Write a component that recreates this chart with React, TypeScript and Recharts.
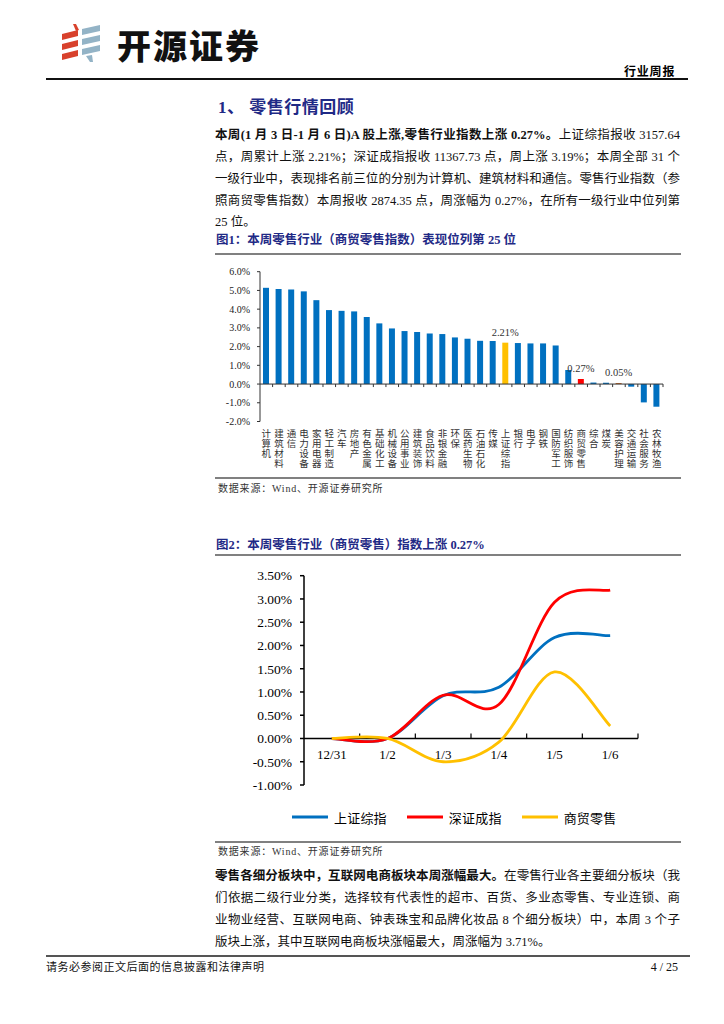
import React from "react";
import {
  BarChart,
  Bar,
  Cell,
  LabelList,
  LineChart,
  Line,
  XAxis,
  YAxis,
  ReferenceLine,
  Legend,
} from "recharts";

// 图1 data: weekly change of the 31 first-level industries + 上证综指
const industries = [
  "计算机", "建筑材料", "通信", "电力设备", "家用电器", "轻工制造", "汽车", "房地产",
  "有色金属", "基础化工", "机械设备", "公用事业", "建筑装饰", "食品饮料", "非银金融", "环保",
  "医药生物", "石油石化", "传媒", "上证综指", "银行", "电子", "钢铁", "国防军工",
  "纺织服饰", "商贸零售", "综合", "煤炭", "美容护理", "交通运输", "社会服务", "农林牧渔",
];
const weeklyChange = [
  5.14, 5.07, 5.05, 4.95, 4.48, 3.95, 3.91, 3.88,
  3.58, 3.24, 2.97, 2.83, 2.78, 2.70, 2.67, 2.49,
  2.42, 2.31, 2.30, 2.21, 2.19, 2.17, 2.17, 2.06,
  0.75, 0.27, 0.08, 0.07, 0.05, -0.14, -0.98, -1.21,
];
const barTicks = [-2, -1, 0, 1, 2, 3, 4, 5, 6];
const highlight: Record<string, string> = {
  上证综指: "#FFC000",
  商贸零售: "#FF0000",
  美容护理: "#C55A11",
};
const labeled = ["上证综指", "商贸零售", "美容护理"];

// 图2 data: cumulative change since 12/31
const dates = ["12/31", "1/2", "1/3", "1/4", "1/5", "1/6"];
const seriesNames = ["上证综指", "深证成指", "商贸零售"];
const sseComposite = [0, 0, 0.92, 1.1, 2.17, 2.21];
const szseComponent = [0, 0, 0.93, 0.73, 2.93, 3.19];
const retailIndex = [0, 0, -0.5, -0.08, 1.43, 0.27];
const lineTicks = [-1, -0.5, 0, 0.5, 1, 1.5, 2, 2.5, 3, 3.5];

const barData = industries.map((name, i) => ({ name, value: weeklyChange[i] }));
const lineData = dates.map((d, i) => ({
  date: d,
  上证综指: sseComposite[i],
  深证成指: szseComponent[i],
  商贸零售: retailIndex[i],
}));

const SERIF = "'Liberation Serif', 'Times New Roman', 'Noto Sans CJK SC', serif";
const NAVY = "#1F2A86";

// Excel-like smoothing (Catmull-Rom through every point)
function excelSmooth(context: any) {
  let pts: number[][] = [];
  return {
    areaStart() {},
    areaEnd() {},
    lineStart() {
      pts = [];
    },
    point(x: number, y: number) {
      pts.push([+x, +y]);
    },
    lineEnd() {
      const n = pts.length;
      if (!n) return;
      context.moveTo(pts[0][0], pts[0][1]);
      for (let i = 0; i < n - 1; i++) {
        const p0 = pts[i - 1] || pts[i];
        const p1 = pts[i];
        const p2 = pts[i + 1];
        const p3 = pts[i + 2] || p2;
        context.bezierCurveTo(
          p1[0] + (p2[0] - p0[0]) / 6,
          p1[1] + (p2[1] - p0[1]) / 6,
          p2[0] - (p3[0] - p1[0]) / 6,
          p2[1] - (p3[1] - p1[1]) / 6,
          p2[0],
          p2[1]
        );
      }
    },
  };
}

const VerticalTick = (props: any) => {
  const { x, y, payload } = props;
  const chars = Array.from(String(payload.value));
  return (
    <g>
      {chars.map((ch, i) => (
        <text
          key={i}
          x={x}
          y={y + 15 + i * 10.3}
          textAnchor="middle"
          fontSize={9.5}
          fontFamily={SERIF}
          fill="#333"
        >
          {ch}
        </text>
      ))}
    </g>
  );
};

// zero line of 图1 with small tick marks between categories
const BarZeroLine = (props: any) => {
  const { x1, x2, y1 } = props;
  const n = industries.length;
  const step = (x2 - x1) / n;
  return (
    <g>
      <line x1={x1} x2={x2} y1={y1} y2={y1} stroke="#333" strokeWidth={1} />
      {industries.map((_, i) => (
        <line key={i} x1={x1 + (i + 1) * step} x2={x1 + (i + 1) * step} y1={y1} y2={y1 + 3} stroke="#333" strokeWidth={1} />
      ))}
    </g>
  );
};

// zero line of 图2 with tick marks and date labels
const LineZeroAxis = (props: any) => {
  const { x1, x2, y1 } = props;
  const n = dates.length;
  const step = (x2 - x1) / n;
  return (
    <g>
      <line x1={x1} x2={x2} y1={y1} y2={y1} stroke="#000" strokeWidth={1.5} />
      {dates.map((d, i) => (
        <g key={d}>
          <line x1={x1 + (i + 1) * step} x2={x1 + (i + 1) * step} y1={y1} y2={y1 - 5} stroke="#000" strokeWidth={1.2} />
          <text x={x1 + (i + 0.5) * step} y={y1 + 21} textAnchor="middle" fontSize={13} fontFamily={SERIF} fill="#000">
            {d}
          </text>
        </g>
      ))}
    </g>
  );
};

const LegendRow = (props: any) => {
  const items = [...(props.payload || [])].sort(
    (a: any, b: any) => seriesNames.indexOf(a.value) - seriesNames.indexOf(b.value)
  );
  return (
    <div style={{ display: "flex", alignItems: "center", height: 18 }}>
      {items.map((it: any) => (
        <div key={it.value} style={{ display: "flex", alignItems: "center", marginRight: 20 }}>
          <svg width={36} height={6}>
            <line x1={0} x2={36} y1={3} y2={3} stroke={it.color} strokeWidth={3} />
          </svg>
          <span style={{ marginLeft: 6, fontSize: 13, fontFamily: SERIF, color: "#000", letterSpacing: 0.2 }}>
            {it.value}
          </span>
        </div>
      ))}
    </div>
  );
};

const Abs = ({ left, top, style, children }: any) => (
  <div style={{ position: "absolute", left, top, whiteSpace: "nowrap", ...style }}>{children}</div>
);

const JLine = ({ top, last, children }: any) => (
  <div
    style={{
      position: "absolute",
      left: 215,
      top: top - 11,
      width: 465,
      height: 22,
      lineHeight: "22px",
      fontSize: 12.5,
      whiteSpace: "nowrap",
      textAlign: last ? "left" : "justify",
      textAlignLast: last ? "left" : "justify",
      color: "#111",
    } as any}
  >
    {children}
  </div>
);

const Rule = ({ top, left = 215, width = 466, h = 1.5, color = "#808080" }: any) => (
  <div style={{ position: "absolute", left, top, width, height: h, background: color }} />
);

export default function App() {
  return (
    <div
      style={{
        position: "absolute",
        left: 0,
        top: 0,
        width: 724,
        height: 1024,
        background: "#fff",
        fontFamily: SERIF,
        overflow: "hidden",
      }}
    >
      {/* header */}
      <svg style={{ position: "absolute", left: 0, top: 0 }} width={120} height={75}>
        <polygon points="73,24 76,24 79,30 76,31" fill="#D8412C" />
        <polygon points="62,34 78,30 78,36 62,40" fill="#D8412C" />
        <polygon points="62,44 78,40 78,46 62,50" fill="#D8412C" />
        <polygon points="62,54 78,50 78,56 62,60" fill="#D8412C" />
        <polygon points="82,29 100,25 100,31 82,35" fill="#93B3C6" />
        <polygon points="82,39 100,35 100,41 82,45" fill="#93B3C6" />
        <polygon points="82,49 100,45 100,51 82,55" fill="#93B3C6" />
        <polygon points="86,56 92,55 93,62 90,62" fill="#93B3C6" />
      </svg>
      <Abs left={117} top={23} style={{ fontFamily: "'Noto Sans CJK SC'", fontWeight: 900, fontSize: 34, letterSpacing: 2, color: "#111", lineHeight: "44px" }}>
        开源证券
      </Abs>
      <Abs left={624} top={63} style={{ fontFamily: "'Noto Sans CJK SC'", fontWeight: 700, fontSize: 12, letterSpacing: 0.8, lineHeight: "16px" }}>
        行业周报
      </Abs>
      <Rule top={78} left={46} width={642} h={1.5} color="#111" />

      <Abs left={218} top={97} style={{ fontFamily: SERIF, fontWeight: 700, fontSize: 17, color: NAVY, lineHeight: "22px", letterSpacing: 0.5 }}>
        1、 零售行情回顾
      </Abs>

      <JLine top={135}>
        <b>本周(1 月 3 日-1 月 6 日)A 股上涨,零售行业指数上涨 0.27%。</b>上证综指报收 3157.64
      </JLine>
      <JLine top={157}>点，周累计上涨 2.21%；深证成指报收 11367.73 点，周上涨 3.19%；本周全部 31 个</JLine>
      <JLine top={179}>一级行业中，表现排名前三位的分别为计算机、建筑材料和通信。零售行业指数（参</JLine>
      <JLine top={201}>照商贸零售指数）本周报收 2874.35 点，周涨幅为 0.27%，在所有一级行业中位列第</JLine>
      <JLine top={222} last>25 位。</JLine>

      {/* 图1 */}
      <Abs left={216} top={231} style={{ fontWeight: 700, fontSize: 12.5, color: NAVY, lineHeight: "18px" }}>
        图1：本周零售行业（商贸零售指数）表现位列第 25 位
      </Abs>
      <Rule top={253} />
      <div style={{ position: "absolute", left: 212, top: 258 }}>
        <BarChart width={478} height={214} data={barData} margin={{ top: 13.7, right: 27, bottom: 2, left: 0 }}>
          <XAxis
            dataKey="name"
            interval={0}
            axisLine={false}
            tickLine={false}
            tickSize={0}
            tickMargin={0}
            height={48.5}
            tick={<VerticalTick />}
          />
          <YAxis
            width={48}
            domain={[-2, 6]}
            ticks={barTicks}
            interval={0}
            tickFormatter={(v: number) => v.toFixed(1) + "%"}
            tickSize={3}
            tickMargin={7}
            stroke="#333"
            tick={{ fontSize: 10, fontFamily: SERIF, fill: "#222" }}
          />
          <ReferenceLine y={0} shape={<BarZeroLine />} />
          <Bar dataKey="value" barSize={6} isAnimationActive={false}>
            {barData.map((d) => (
              <Cell key={d.name} fill={highlight[d.name] || "#0070C0"} />
            ))}
            <LabelList
              dataKey="value"
              content={(p: any) =>
                labeled.includes(industries[p.index]) ? (
                  <text
                    x={p.x + p.width / 2}
                    y={p.y - 7}
                    textAnchor="middle"
                    fontSize={10.5}
                    fontFamily={SERIF}
                    fill="#333"
                  >
                    {Number(p.value).toFixed(2)}%
                  </text>
                ) : null
              }
            />
          </Bar>
        </BarChart>
      </div>
      <Rule top={477} />
      <Abs left={218} top={482} style={{ fontSize: 10, color: "#333", letterSpacing: 0.8, lineHeight: "14px" }}>
        数据来源：Wind、开源证券研究所
      </Abs>

      {/* 图2 */}
      <Abs left={216} top={536} style={{ fontWeight: 700, fontSize: 12.5, color: NAVY, lineHeight: "18px" }}>
        图2：本周零售行业（商贸零售）指数上涨 0.27%
      </Abs>
      <Rule top={554} />
      <div style={{ position: "absolute", left: 222, top: 562 }}>
        <LineChart width={440} height={270} data={lineData} margin={{ top: 13.7, right: 24, bottom: 47, left: 0 }}>
          <XAxis dataKey="date" scale="band" hide />
          <YAxis
            width={82}
            domain={[-1, 3.5]}
            ticks={lineTicks}
            interval={0}
            tickFormatter={(v: number) => v.toFixed(2) + "%"}
            tickSize={4}
            tickMargin={8}
            stroke="#000"
            strokeWidth={1.5}
            tick={{ fontSize: 13.5, fontFamily: SERIF, fill: "#000" }}
          />
          <ReferenceLine y={0} shape={<LineZeroAxis />} />
          <Line dataKey="上证综指" type={excelSmooth as any} stroke="#0070C0" strokeWidth={2.8} dot={false} isAnimationActive={false} />
          <Line dataKey="深证成指" type={excelSmooth as any} stroke="#FF0000" strokeWidth={2.8} dot={false} isAnimationActive={false} />
          <Line dataKey="商贸零售" type={excelSmooth as any} stroke="#FFC000" strokeWidth={2.8} dot={false} isAnimationActive={false} />
          <Legend
            verticalAlign="middle"
            align="center"
            layout="horizontal"
            wrapperStyle={{ top: 246, left: 70, width: 360 }}
            content={<LegendRow />}
          />
        </LineChart>
      </div>
      <Rule top={841} />
      <Abs left={218} top={845} style={{ fontSize: 10, color: "#333", letterSpacing: 0.8, lineHeight: "14px" }}>
        数据来源：Wind、开源证券研究所
      </Abs>

      <JLine top={876}>
        <b>零售各细分板块中，互联网电商板块本周涨幅最大。</b>在零售行业各主要细分板块（我
      </JLine>
      <JLine top={898}>们依据二级行业分类，选择较有代表性的超市、百货、多业态零售、专业连锁、商</JLine>
      <JLine top={920}>业物业经营、互联网电商、钟表珠宝和品牌化妆品 8 个细分板块）中，本周 3 个子</JLine>
      <JLine top={942} last>版块上涨，其中互联网电商板块涨幅最大，周涨幅为 3.71%。</JLine>

      {/* footer */}
      <Rule top={955} left={46} width={644} h={2} color="#555" />
      <Abs left={46} top={960} style={{ fontSize: 11, color: "#111", letterSpacing: 0.5, lineHeight: "14px" }}>
        请务必参阅正文后面的信息披露和法律声明
      </Abs>
      <Abs left={648} top={959} style={{ fontSize: 12, color: "#111", lineHeight: "16px", width: 30, textAlign: "right" }}>
        4 / 25
      </Abs>
    </div>
  );
}
